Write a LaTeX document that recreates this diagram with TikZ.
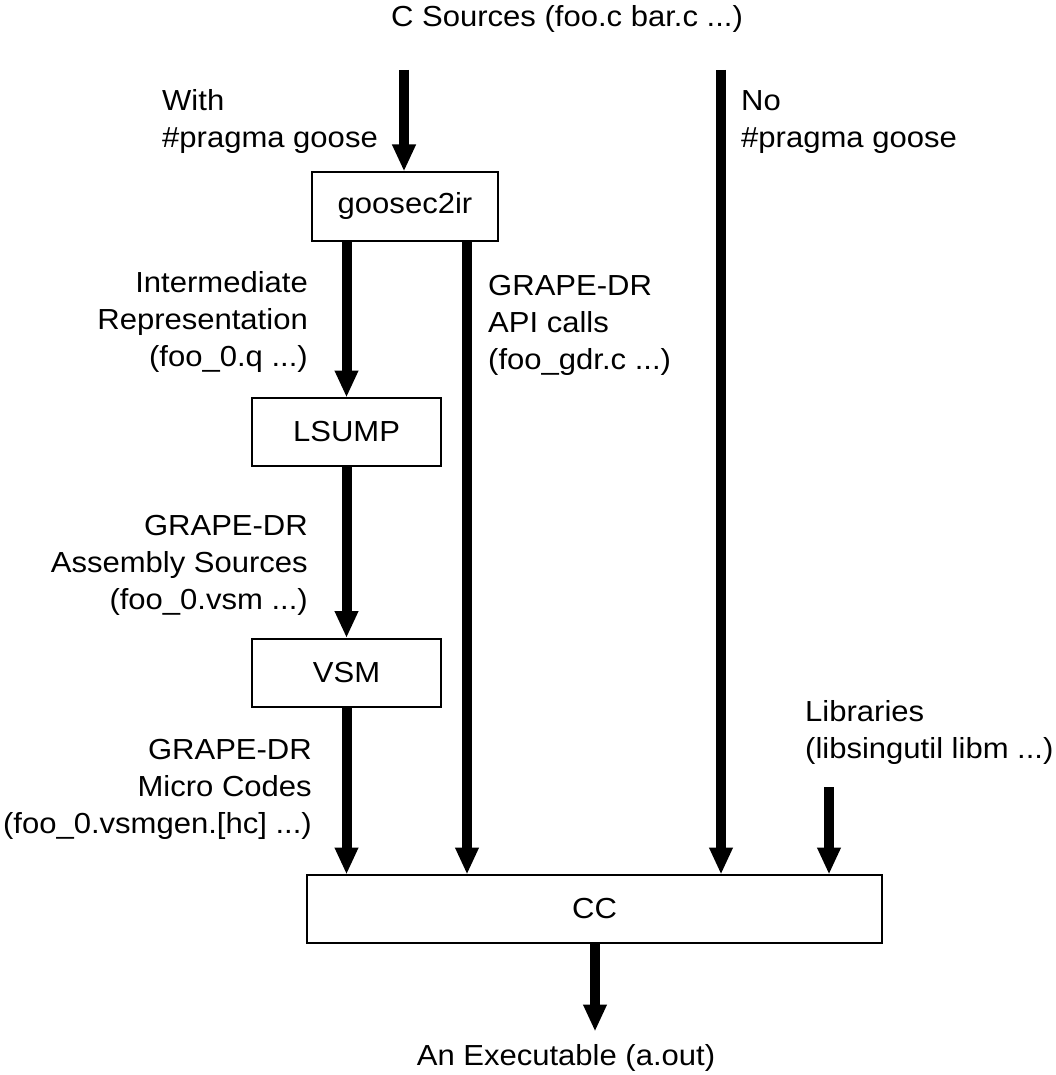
\documentclass[tikz,border=0pt]{standalone}
\usepackage{fontspec}
\setmainfont{Liberation Sans}[FakeStretch=1.07]
\usetikzlibrary{arrows.meta}
\tikzset{
  box/.style={draw, line width=2pt, fill=white, inner sep=0pt},
  flow/.style={line width=10pt, -{Triangle[width=22pt,length=27pt]}, shorten >=-0.5pt},
  lbl/.style={inner sep=0pt, font=\fontsize{29}{37}\selectfont},
}
\begin{document}
\begin{tikzpicture}[x=1pt,y=-1pt]
\useasboundingbox (0,0) rectangle (1055,1075);
% boxes
\node[box, minimum width=186pt, minimum height=69pt, lbl] (goose) at (405,206.5) {goosec2ir};
\node[box, minimum width=189pt, minimum height=68pt, lbl] (lsump) at (346.5,432) {LSUMP};
\node[box, minimum width=189pt, minimum height=68pt, lbl] (vsm) at (346.5,672.5) {VSM};
\node[box, minimum width=575pt, minimum height=68pt, lbl] (cc) at (594.5,909) {CC};
% labels
\node[lbl] (src) at (567,19) {C Sources (foo.c bar.c ...)};
\node[lbl] (exe) at (566,1058) {An Executable (a.out)};
\node[lbl, align=left, anchor=west] (with) at (162,122) {With\\\#pragma goose};
\node[lbl, align=left, anchor=west] (no) at (741,122) {No\\\#pragma goose};
\node[lbl, align=right, anchor=east] (ir) at (308,322) {Intermediate\\Representation\\(foo\_0.q ...)};
\node[lbl, align=left, anchor=west] (api) at (488,325) {GRAPE-DR\\API calls\\(foo\_gdr.c ...)};
\node[lbl, align=right, anchor=east] (asm) at (308,565) {GRAPE-DR\\Assembly Sources\\(foo\_0.vsm ...)};
\node[lbl, align=right, anchor=east] (mc) at (312,789) {GRAPE-DR\\Micro Codes\\(foo\_0.vsmgen.[hc] ...)};
\node[lbl, align=left, anchor=west] (libs) at (805,732) {Libraries\\(libsingutil libm ...)};
% free ends
\coordinate (s1) at (404,70);
\coordinate (s2) at (721,70);
\coordinate (sl) at (829,787);
\coordinate (g2) at (467,241);
\coordinate (out) at (595,1031);
% connectors
\draw[flow] (s1) -- (s1 |- goose.north);
\draw[flow] (goose.south -| lsump.north) -- (lsump.north);
\draw[flow] (g2) -- (g2 |- cc.north);
\draw[flow] (lsump.south) -- (vsm.north);
\draw[flow] (vsm.south) -- (vsm.south |- cc.north);
\draw[flow] (s2) -- (s2 |- cc.north);
\draw[flow] (sl) -- (sl |- cc.north);
\draw[flow] (cc.south -| out) -- (out);
\end{tikzpicture}
\end{document}
